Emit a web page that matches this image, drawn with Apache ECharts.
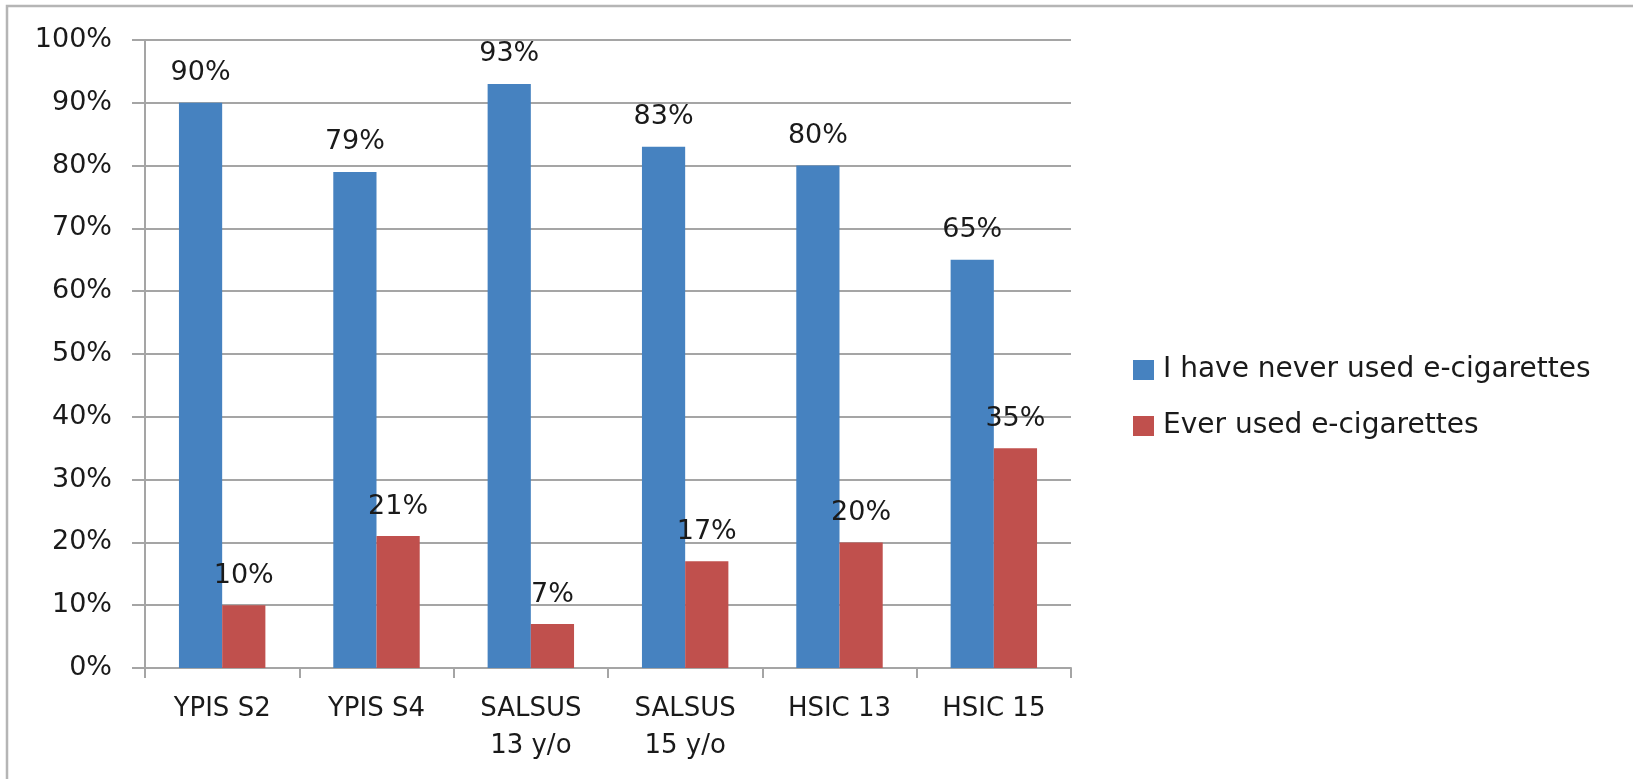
<!DOCTYPE html>
<html>
<head>
<meta charset="utf-8">
<script src="https://cdn.jsdelivr.net/npm/echarts@6/dist/echarts.min.js"></script>
<style>
html,body{margin:0;padding:0;background:#fff;}
#chart{width:1633px;height:779px;}
</style>
</head>
<body>
<div id="chart"></div>
<script>
const categories = ['YPIS S2', 'YPIS S4', 'SALSUS\n13 y/o', 'SALSUS\n15 y/o', 'HSIC 13', 'HSIC 15'];
const neverUsed = [90, 79, 93, 83, 80, 65];
const everUsed = [10, 21, 7, 17, 20, 35];
const seriesNames = ['I have never used e-cigarettes', 'Ever used e-cigarettes'];
const yTicks = { min: 0, max: 100, interval: 10 };

const chart = echarts.init(document.getElementById('chart'));
const axisFont = 'DejaVu Sans';
const labelStyle = {
  show: true,
  position: 'top',
  distance: 16,
  formatter: p => p.value + '%',
  fontFamily: axisFont,
  fontSize: 27,
  color: '#1a1a1a'
};
chart.setOption({
  backgroundColor: '#fff',
  animation: false,
  graphic: [{
    type: 'rect',
    shape: { x: 7, y: 6, width: 3000, height: 3000 },
    style: { fill: 'none', stroke: '#b5b5b5', lineWidth: 2.5 },
    silent: true
  }],
  grid: { left: 145, right: 562, top: 40, bottom: 111, containLabel: false },
  legend: {
    orient: 'vertical',
    left: 1128,
    top: 351,
    itemWidth: 21,
    itemHeight: 20,
    itemGap: 28,
    icon: 'rect',
    textStyle: { fontFamily: axisFont, fontSize: 28, color: '#1a1a1a', padding: [0, 0, 0, 4] },
    data: seriesNames
  },
  xAxis: {
    type: 'category',
    data: categories,
    axisLine: { lineStyle: { color: '#a5a5a5', width: 2 } },
    axisTick: { show: true, length: 10, alignWithLabel: false, lineStyle: { color: '#a5a5a5', width: 2 } },
    axisLabel: { margin: 23, fontFamily: axisFont, fontSize: 26, lineHeight: 37, color: '#1a1a1a', interval: 0 }
  },
  yAxis: {
    type: 'value',
    min: yTicks.min,
    max: yTicks.max,
    interval: yTicks.interval,
    axisLine: { show: true, lineStyle: { color: '#a5a5a5', width: 2 } },
    axisTick: { show: true, length: 13, lineStyle: { color: '#a5a5a5', width: 2 } },
    splitLine: { show: true, lineStyle: { color: '#a5a5a5', width: 2 } },
    axisLabel: { margin: 33, fontFamily: axisFont, fontSize: 27, color: '#1a1a1a', formatter: v => v + '%' }
  },
  series: [
    {
      name: seriesNames[0],
      type: 'bar',
      data: neverUsed,
      barGap: '0%',
      barCategoryGap: '44%',
      itemStyle: { color: '#4682c0' },
      label: labelStyle
    },
    {
      name: seriesNames[1],
      type: 'bar',
      data: everUsed,
      barGap: '0%',
      barCategoryGap: '44%',
      itemStyle: { color: '#c0504d' },
      label: labelStyle
    }
  ]
});
</script>
</body>
</html>
